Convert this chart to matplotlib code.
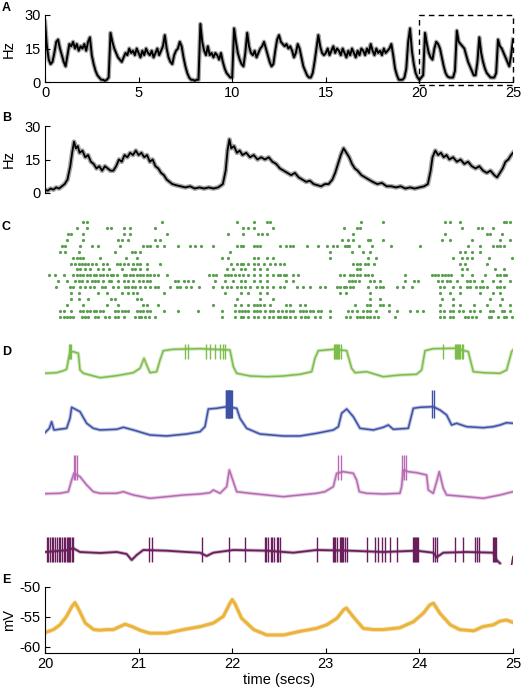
import numpy as np
import matplotlib
matplotlib.use("Agg")
import matplotlib.pyplot as plt
from matplotlib.patches import Rectangle

plt.rcParams['font.family'] = ['Liberation Sans', 'DejaVu Sans']
plt.rcParams['axes.unicode_minus'] = False

# ---- panel A : population rate 0-25 s, one value every 0.1 s ----
rateA = [27, 16, 10, 8, 9, 13, 18, 19, 15, 12,
         9, 7, 12, 17, 16, 18, 15, 17, 14, 16,
         15, 17, 14, 18, 20, 12, 8, 5, 3, 2,
         1, 1, 0.5, 1, 2, 22, 18, 15, 13, 11,
         10, 9, 11, 13, 12, 15, 13, 14, 12, 15,
         13, 11, 14, 12, 15, 13, 12, 14, 11, 13,
         15, 12, 14, 16, 21, 15, 11, 9, 8, 12,
         14, 15, 18, 16, 11, 7, 4, 2, 1, 1,
         0.5, 1, 1, 26, 18, 14, 12, 16, 12, 13,
         11, 13, 12, 10, 13, 9, 6, 4, 3, 2,
         2, 24, 18, 13, 10, 8, 7, 13, 22, 16,
         13, 12, 14, 11, 13, 15, 16, 18, 15, 12,
         9, 7, 8, 14, 19, 21, 18, 17, 16, 17,
         15, 16, 14, 11, 13, 17, 15, 11, 7, 5,
         3, 2, 2, 4, 9, 15, 21, 16, 13, 12,
         13, 15, 12, 14, 16, 13, 15, 14, 12, 15,
         13, 11, 14, 12, 15, 13, 11, 14, 12, 15,
         14, 12, 15, 13, 17, 14, 12, 15, 13, 14,
         12, 15, 13, 14, 15, 17, 12, 6, 3, 1,
         1, 1, 2, 6, 18, 24, 14, 8, 4, 2,
         1, 2, 3, 22, 17, 13, 11, 10, 15, 18,
         17, 15, 11, 7, 4, 2.5, 2, 2, 2, 5,
         23, 18, 17, 16, 15, 12, 9, 7, 5, 3,
         3, 9, 20, 13, 9, 6, 4, 3, 2, 2,
         2, 4, 19, 16, 15, 13, 11, 9, 7, 12,
         19]
timeA = np.linspace(0, 25, len(rateA))

# ---- panel B : zoom 20-25 s ----
timeB = [20.00, 20.03, 20.06, 20.09, 20.12, 20.15, 20.18, 20.21, 20.24, 20.27, 20.29, 20.31, 20.33, 20.35,
         20.37, 20.40, 20.43, 20.46, 20.49, 20.52, 20.55, 20.58, 20.61, 20.64, 20.67, 20.70, 20.73, 20.76,
         20.79, 20.82, 20.85, 20.88, 20.91, 20.94, 20.97, 21.00, 21.03, 21.06, 21.09, 21.12, 21.15, 21.18,
         21.21, 21.24, 21.27, 21.30, 21.33, 21.36, 21.40, 21.45, 21.50, 21.55, 21.60, 21.65, 21.70, 21.75,
         21.80, 21.85, 21.90, 21.93, 21.95, 21.97, 21.99, 22.02, 22.05, 22.08, 22.11, 22.15, 22.19, 22.23,
         22.27, 22.31, 22.35, 22.39, 22.43, 22.47, 22.51, 22.55, 22.59, 22.63, 22.67, 22.71, 22.75, 22.79,
         22.83, 22.87, 22.91, 22.95, 22.99, 23.03, 23.07, 23.10, 23.13, 23.16, 23.19, 23.22, 23.25, 23.28,
         23.31, 23.34, 23.38, 23.42, 23.46, 23.50, 23.55, 23.60, 23.65, 23.70, 23.75, 23.80, 23.85, 23.90,
         23.95, 24.00, 24.05, 24.09, 24.12, 24.14, 24.17, 24.20, 24.23, 24.26, 24.29, 24.32, 24.36, 24.40,
         24.44, 24.48, 24.52, 24.56, 24.60, 24.64, 24.68, 24.72, 24.76, 24.80, 24.83, 24.86, 24.89, 24.92,
         24.95, 24.98, 25.00]
rateB = [1.5, 1.0, 2.0, 1.5, 2.5, 2.0, 3.0, 4.0, 6, 12, 18, 23, 20, 21,
         18, 19, 16, 17, 14, 13, 11, 12, 10, 12, 11, 10, 10, 12,
         15, 14, 17, 16, 18, 17, 19, 17, 18, 16, 17, 14, 15, 12,
         11, 9, 8, 6, 5, 4, 3.5, 3, 2.5, 3, 2, 2.5, 2, 2.5,
         2, 2.5, 4, 10, 19, 24, 20, 21, 18, 19, 17, 18, 16, 17,
         15, 16, 15, 16, 14, 13, 11, 10, 9, 8, 9, 7, 6, 5,
         5.5, 4, 3.5, 3, 4, 4, 6, 9, 13, 17, 20, 18, 16, 13,
         11, 10, 8, 7, 6, 5, 4, 4.5, 3, 3, 2.5, 3, 2, 2.5,
         2, 2.5, 3, 4, 10, 16, 19, 17, 18, 16, 17, 15, 16, 14,
         15, 13, 14, 12, 11, 12, 10, 9, 10, 8, 7, 9, 11, 14,
         15, 17, 18]

# ---- panel C : spike raster, one list per neuron (top to bottom) ----
raster = [
    [20.41, 20.45, 21.25, 22.05, 22.23, 22.37, 22.40, 23.38, 23.61, 24.27, 24.33, 24.43, 24.90, 24.93, 24.97],
    [20.34, 20.45, 20.66, 20.70, 20.84, 20.91, 21.18, 22.12, 22.17, 22.23, 22.44, 23.19, 23.33, 23.37, 24.45,
     24.63, 24.67, 24.79],
    [20.25, 20.28, 20.41, 20.84, 20.91, 21.30, 21.96, 22.12, 22.28, 22.32, 22.37, 23.29, 24.27, 24.72, 24.75, 24.88],
    [20.23, 20.41, 20.78, 20.82, 20.89, 21.18, 21.23, 23.17, 23.24, 23.29, 23.45, 23.47, 23.61, 24.24, 24.33,
     24.56, 24.86, 24.97],
    [20.18, 20.21, 20.37, 20.50, 20.57, 20.80, 21.05, 21.09, 21.12, 21.20, 21.27, 21.42, 21.55, 21.60, 21.67,
     21.80, 22.05, 22.09, 22.12, 22.23, 22.27, 22.30, 22.51, 22.58, 22.62, 22.65, 22.80, 22.92, 23.01, 23.08,
     23.12, 23.21, 23.23, 23.25, 23.35, 23.49, 23.70, 24.01, 24.52, 24.65, 24.79, 24.83, 24.86, 24.90],
    [20.16, 20.21, 20.36, 20.75, 20.93, 20.96, 21.02, 21.98, 23.04, 23.28, 23.40, 23.47, 24.43, 24.49, 24.56, 24.65],
    [20.30, 20.34, 20.37, 20.41, 20.59, 20.87, 20.98, 21.89, 21.96, 22.23, 22.28, 22.37, 22.44, 23.04, 23.45,
     23.54, 24.36, 24.45, 24.51, 24.56, 24.74, 24.99],
    [20.28, 20.32, 20.36, 20.39, 20.43, 20.46, 20.50, 20.55, 20.62, 20.66, 20.77, 20.80, 20.84, 20.89, 20.94,
     20.98, 21.02, 21.09, 21.23, 21.99, 22.05, 22.09, 22.12, 22.17, 22.23, 22.28, 22.34, 22.40, 22.46, 22.51,
     22.55, 23.29, 23.33, 23.37, 23.42, 23.45, 23.52, 24.43, 24.49, 24.72],
    [20.34, 20.37, 20.43, 20.48, 20.57, 20.62, 20.68, 20.82, 20.93, 20.96, 21.02, 21.09, 21.94, 22.01, 22.09,
     22.14, 22.23, 22.30, 22.37, 23.33, 23.37, 24.45, 24.51, 24.81, 24.90],
    [20.04, 20.11, 20.20, 20.30, 20.34, 20.37, 20.41, 20.45, 20.48, 20.52, 20.55, 20.59, 20.62, 20.66, 20.70,
     20.73, 20.77, 20.84, 20.87, 20.91, 20.94, 20.98, 21.02, 21.05, 21.09, 21.12, 21.16, 21.21, 21.30, 21.75,
     21.80, 21.83, 21.92, 21.96, 21.99, 22.03, 22.07, 22.12, 22.17, 22.23, 22.30, 22.37, 22.44, 22.49, 22.51,
     22.55, 22.58, 22.65, 22.70, 23.15, 23.19, 23.26, 23.29, 23.33, 23.37, 23.42, 23.45, 23.49, 23.85, 24.13,
     24.17, 24.20, 24.24, 24.27, 24.31, 24.34, 24.45, 24.56, 24.70, 24.83, 24.86, 24.90, 24.93],
    [20.14, 20.23, 20.32, 20.36, 20.39, 20.45, 20.50, 20.53, 20.57, 20.62, 20.68, 20.71, 20.78, 20.84, 20.89,
     20.94, 21.00, 21.05, 21.09, 21.12, 21.39, 21.42, 21.48, 21.53, 21.58, 21.82, 21.92, 22.01, 22.09, 22.14,
     22.23, 22.30, 22.37, 22.57, 22.65, 23.25, 23.28, 23.31, 23.35, 23.47, 23.51, 23.58, 23.85, 23.94, 23.99,
     24.20, 24.24, 24.29, 24.33, 24.40, 24.51, 24.54, 24.58, 24.67, 24.79, 24.86, 24.97],
    [20.12, 20.27, 20.30, 20.37, 20.43, 20.48, 20.52, 20.61, 20.64, 20.73, 20.78, 20.86, 20.89, 20.93, 20.96,
     21.02, 21.07, 21.12, 21.18, 21.21, 21.34, 21.41, 21.44, 21.51, 21.56, 21.65, 21.80, 21.89, 21.94, 21.99,
     22.05, 22.09, 22.14, 22.19, 22.26, 22.32, 22.37, 22.44, 22.51, 22.55, 22.69, 22.76, 22.83, 22.94, 22.99,
     23.12, 23.15, 23.19, 23.22, 23.26, 23.29, 23.45, 23.54, 23.58, 23.61, 23.76, 23.83, 23.92, 24.22, 24.26,
     24.36, 24.43, 24.51, 24.54, 24.61, 24.65, 24.68, 24.72, 24.83, 24.86, 24.90],
    [20.28, 20.36, 20.57, 20.66, 20.82, 20.89, 20.94, 20.98, 21.27, 21.92, 22.09, 22.17, 22.30, 22.37, 23.15,
     23.22, 23.47, 24.22, 24.33, 24.43, 24.65, 24.79, 24.86],
    [20.28, 20.36, 20.46, 20.70, 20.75, 20.98, 21.03, 22.05, 22.30, 22.44, 23.47, 23.58, 24.24, 24.36, 24.75, 24.88],
    [20.23, 20.41, 20.66, 20.78, 21.05, 21.09, 21.21, 21.80, 22.03, 22.09, 22.17, 22.23, 22.27, 22.30, 22.34,
     22.40, 22.58, 22.62, 22.72, 22.78, 23.31, 23.44, 23.47, 23.58, 23.61, 23.68, 24.22, 24.36, 24.43, 24.58,
     24.72, 24.86, 24.97],
    [20.16, 20.20, 20.28, 20.37, 20.41, 20.45, 20.48, 20.52, 20.55, 20.59, 20.62, 20.75, 20.78, 20.82, 20.86,
     20.89, 20.98, 21.02, 21.05, 21.09, 21.12, 21.27, 21.42, 21.63, 21.89, 22.03, 22.07, 22.10, 22.14, 22.17,
     22.23, 22.27, 22.30, 22.35, 22.40, 22.44, 22.49, 22.53, 22.58, 22.62, 22.65, 22.72, 22.76, 22.79, 22.83,
     22.86, 22.92, 22.95, 23.04, 23.24, 23.28, 23.33, 23.40, 23.44, 23.47, 23.54, 23.67, 23.76, 23.90, 23.97,
     24.04, 24.22, 24.26, 24.33, 24.36, 24.42, 24.47, 24.54, 24.58, 24.65, 24.75, 24.79, 24.88, 24.90, 24.97],
    [20.16, 20.20, 20.23, 20.27, 20.30, 20.39, 20.43, 20.46, 20.53, 20.57, 20.64, 20.68, 20.75, 20.78, 20.84,
     20.96, 21.00, 21.03, 21.07, 21.11, 21.18, 21.89, 22.03, 22.09, 22.12, 22.17, 22.23, 22.28, 22.34, 22.39,
     22.44, 22.49, 22.51, 22.55, 22.58, 22.62, 22.67, 22.74, 22.78, 22.81, 22.88, 22.94, 23.04, 23.22, 23.26,
     23.33, 23.37, 23.40, 23.44, 23.47, 23.52, 23.56, 23.74, 24.22, 24.26, 24.33, 24.36, 24.49, 24.52, 24.56,
     24.61, 24.74, 24.77, 24.84, 24.90, 24.93, 24.99],
]

# ---- panel D : four membrane traces (relative height, arbitrary units) ----
green_t = [20.00, 20.125, 20.196, 20.231, 20.249, 20.267, 20.303, 20.356, 20.374, 20.41, 20.588, 20.766, 20.944,
           21.015, 21.058, 21.086, 21.122, 21.193, 21.229, 21.264, 21.371, 21.656, 21.976, 22.012, 22.048, 22.19,
           22.368, 22.546, 22.724, 22.849, 22.884, 22.92, 23.08, 23.223, 23.276, 23.312, 23.436, 23.614, 23.792,
           23.97, 24.024, 24.06, 24.148, 24.38, 24.522, 24.576, 24.683, 24.861, 24.932, 24.985, 25.0]
green_h = [-0.3, 0.3, 2.3, 3.7, 13, 21.3, 21.3, 19.7, 3, -0.3, -4.7, -2.7, 0.3, 4.7, 14.7, 8, 0.3, 1.3, 13, 22.3,
           23.7, 24.3, 23, 6.3, -0.3, -3, -3.7, -3, -1.3, 1.3, 14.7, 22.3, 23.7, 22.3, 4.7, 0.3, 1.3, -3.7, -2,
           -1.3, 3, 22.3, 24.3, 24.7, 21.3, 1.3, 0.3, -0.3, 3, 21.3, 23]
green_spikes = [20.256, 20.267, 20.278, 21.495, 21.524, 21.716, 21.763, 21.816, 21.87, 21.898, 21.926,
                23.09, 23.10, 23.11, 23.12, 23.13, 23.145, 23.16, 24.255, 24.38, 24.39, 24.40, 24.41,
                24.42, 24.43, 24.45, 24.47]

blue_t = [20.0, 20.046, 20.071, 20.096, 20.231, 20.267, 20.285, 20.374, 20.445, 20.516, 20.588, 20.766, 20.837,
          20.944, 21.122, 21.3, 21.513, 21.656, 21.709, 21.745, 21.834, 21.941, 22.048, 22.083, 22.154, 22.297,
          22.546, 22.724, 22.902, 23.08, 23.134, 23.169, 23.223, 23.294, 23.365, 23.508, 23.614, 23.668, 23.721,
          23.881, 23.935, 24.006, 24.148, 24.22, 24.291, 24.344, 24.398, 24.504, 24.683, 24.789, 24.861, 24.932,
          25.0]
blue_h = [0.3, 4.7, 11.3, 3, 4.7, 14.7, 25.7, 21.3, 9.7, 4.7, 3, 3.7, 5.7, 3, -2, -3, -1, 1.3, 6.3, 24, 24.7,
          26.3, 24.7, 14.7, 4.7, -1, -3, -3, -0.3, 3, 6.3, 19.7, 24, 16.3, 4.7, 3, 5.7, 8, 3.7, 4.7, 24.7, 25.7,
          26.3, 23, 18, 8, 9.7, 6.3, 5.3, 6.3, 8, 10.3, 9.7]
blue_spikes = [21.933, 21.939, 21.945, 21.951, 21.957, 21.963, 21.969, 21.975, 21.981, 21.987, 21.993,
               24.13, 24.159]

pink_t = [20.0, 20.16, 20.249, 20.285, 20.31, 20.374, 20.445, 20.516, 20.588, 20.766, 20.837, 20.944, 21.122,
          21.3, 21.478, 21.656, 21.763, 21.798, 21.87, 21.941, 21.969, 22.012, 22.048, 22.19, 22.368, 22.546,
          22.724, 22.902, 22.991, 23.08, 23.116, 23.187, 23.294, 23.329, 23.358, 23.436, 23.614, 23.792, 23.81,
          23.828, 23.881, 23.97, 24.077, 24.095, 24.148, 24.184, 24.212, 24.255, 24.291, 24.504, 24.683, 24.861,
          25.0]
pink_h = [-0.7, -0.3, 1.3, 13, 19.7, 16.3, 8, 1.3, -0.3, -0.3, 1.3, -2, -5.3, -3.7, -2, -1, 0.3, 3, -0.3, 6.3,
          23, 11.3, 1.3, -0.3, -2, -3.7, -2, -0.3, 1.3, 6.3, 19.7, 21.3, 19.7, 13, 1.3, -0.3, -1, -0.3, 6.3, 23,
          21.3, 20.3, 18, 3, -0.3, 11.3, 21.3, 4.7, -2, -3.7, -5.3, -2, 1.3]
pink_spikes = [20.31, 20.324, 20.338, 23.134, 23.162, 23.817, 23.835, 23.856]

purple_t = [20.0, 20.231, 20.303, 20.374, 20.588, 20.766, 20.872, 20.926, 20.98, 21.05, 21.3, 21.51, 21.656,
            21.727, 21.798, 22.012, 22.368, 22.653, 22.902, 23.258, 23.614, 23.97, 24.148, 24.184, 24.255,
            24.504, 24.789, 24.825, 24.861]
purple_h = [0, 1.7, 3.7, 0, -1, 0, -2, -8, -3, 2, 1.3, 0, -0.7, -4, -0.7, 2, 1.3, -0.7, 2, 1.3, 0, 1.3, -0.7,
            -5.3, -0.7, 0, -0.7, -8, -11.3]
purple_tail_t = [24.985, 25.0]
purple_tail_h = [-13, -4.5]
purple_spikes = [20.02, 20.035, 20.05, 20.07, 20.09, 20.11, 20.13, 20.145, 20.16, 20.18, 20.2, 20.215, 20.23,
                 20.245, 20.26, 20.27, 20.285, 20.3, 21.111, 21.14, 21.681, 21.966, 22.137, 22.35, 22.36, 22.379,
                 22.411, 22.42, 22.446, 22.475, 22.49, 22.51, 22.909, 23.073, 23.085, 23.098, 23.123, 23.151,
                 23.16, 23.175, 23.187, 23.2, 23.223, 23.436, 23.525, 23.561, 23.597, 23.632, 23.686, 23.757,
                 23.935, 23.945, 23.955, 23.963, 23.975, 23.989, 24.141, 24.166, 24.184, 24.38, 24.469, 24.594,
                 24.612, 24.637, 24.789, 24.8, 24.81, 24.818]

# ---- panel E : mean membrane potential (mV) ----
timeE = [20.00, 20.09, 20.16, 20.23, 20.285, 20.32, 20.356, 20.43, 20.52, 20.59, 20.66, 20.73, 20.80, 20.855,
         20.93, 21.015, 21.12, 21.30, 21.48, 21.66, 21.80, 21.905, 21.976, 22.00, 22.03, 22.10, 22.23, 22.37,
         22.55, 22.72, 22.90, 23.01, 23.12, 23.19, 23.22, 23.29, 23.40, 23.51, 23.61, 23.79, 23.935, 24.04,
         24.11, 24.15, 24.22, 24.33, 24.43, 24.58, 24.68, 24.79, 24.86, 24.93, 25.00]
vmE = [-57.6, -57.1, -56.3, -54.9, -53.3, -52.6, -53.6, -56.0, -57.1, -57.2, -57.1, -57.1, -56.6, -56.2, -56.6,
       -57.2, -57.7, -57.7, -57.1, -56.6, -56.0, -54.9, -52.7, -52.1, -52.8, -55.2, -57.1, -58.0, -58.0, -57.4,
       -56.9, -56.3, -55.2, -53.8, -53.5, -54.9, -56.9, -57.1, -57.1, -56.8, -55.8, -54.4, -53.0, -52.7, -54.4,
       -56.3, -57.1, -57.3, -56.6, -56.3, -55.7, -55.5, -55.9]

W, H = 528.0, 691.0


def box(l, t, r, b):
    # pixel box -> figure fraction
    return [l / W, 1 - b / H, (r - l) / W, (b - t) / H]


def style(ax, bottom=True):
    for s in ['top', 'right']:
        ax.spines[s].set_visible(False)
    ax.spines['left'].set_linewidth(0.8)
    ax.spines['bottom'].set_linewidth(0.8)
    if not bottom:
        ax.spines['bottom'].set_visible(False)
        ax.set_xticks([])
    ax.tick_params(direction='in', length=3.5, width=0.8, labelsize=10.5, pad=3)


def noisy(ax, x, y, col, lw, under):
    # faint wide underlay imitates the noise band of the recorded trace
    ax.plot(x, y, color=col, lw=under, alpha=0.35, solid_joinstyle='round')
    ax.plot(x, y, color=col, lw=lw)


fig = plt.figure(figsize=(W / 100, H / 100), dpi=100)

# A
axA = fig.add_axes(box(45, 15, 513, 82))
noisy(axA, timeA, rateA, 'black', 1.4, 3.2)
axA.set_xlim(0, 25)
axA.set_ylim(0, 30)
axA.set_xticks([0, 5, 10, 15, 20, 25])
axA.set_yticks([0, 15, 30])
axA.set_ylabel('Hz', fontsize=10.5)
axA.yaxis.set_label_coords(-0.062, 0.5)
style(axA)
axA.add_patch(Rectangle((20, -1.3), 5, 31.3, fill=False, ls=(0, (4, 3)), lw=1, color='black', clip_on=False))

# B
axB = fig.add_axes(box(45, 126, 513, 193))
noisy(axB, timeB, rateB, 'black', 1.3, 3.4)
axB.set_xlim(20, 25)
axB.set_ylim(0, 30)
axB.set_yticks([0, 15, 30])
axB.set_ylabel('Hz', fontsize=10.5)
axB.yaxis.set_label_coords(-0.062, 0.5)
style(axB, bottom=False)

# C
axC = fig.add_axes(box(45, 219, 513, 320))
for i, row in enumerate(raster):
    axC.plot(row, [i] * len(row), 'o', ms=2.3, color='#5a9e50', mec='none')
axC.set_xlim(20, 25)
axC.set_ylim(len(raster) - 0.5, -0.5)
axC.axis('off')

# D
axD = fig.add_axes(box(45, 335, 513, 565))
traces = [
    (green_t, green_h, green_spikes, 192, (14, 29), '#7dbd4b', 1.1),
    (blue_t, blue_h, blue_spikes, 132, (15, 43), '#3d51a6', 1.1),
    (pink_t, pink_h, pink_spikes, 72, (13, 38), '#b86bb4', 1.1),
    (purple_t, purple_h, purple_spikes, 13, (-9.7, 15.3), '#6a1f5c', 1.3),
]
for t, h, spk, off, (lo, hi), col, lw in traces:
    noisy(axD, t, np.array(h) + off, col, lw, 2.6)
    axD.vlines(spk, off + lo, off + hi, color=col, lw=1.0)
axD.plot(purple_tail_t, np.array(purple_tail_h) + 13, color='#6a1f5c', lw=1.2)
axD.set_xlim(20, 25)
axD.set_ylim(0, 230)
axD.axis('off')

# E
axE = fig.add_axes(box(45, 587, 513, 653))
noisy(axE, timeE, vmE, '#ebb43c', 2.2, 3.4)
axE.set_xlim(20, 25)
axE.set_ylim(-61, -50)
axE.set_xticks([20, 21, 22, 23, 24, 25])
axE.set_yticks([-60, -55, -50])
axE.set_ylabel('mV', fontsize=10.5)
axE.yaxis.set_label_coords(-0.062, 0.5)
axE.set_xlabel('time (secs)', fontsize=10.5, labelpad=1)
style(axE)

for lab, y in [('A', 2), ('B', 112), ('C', 221), ('D', 346), ('E', 574)]:
    fig.text(2 / W, 1 - y / H, lab, fontsize=9, fontweight='bold', va='top', ha='left')

fig.savefig('out.png', dpi=100)
